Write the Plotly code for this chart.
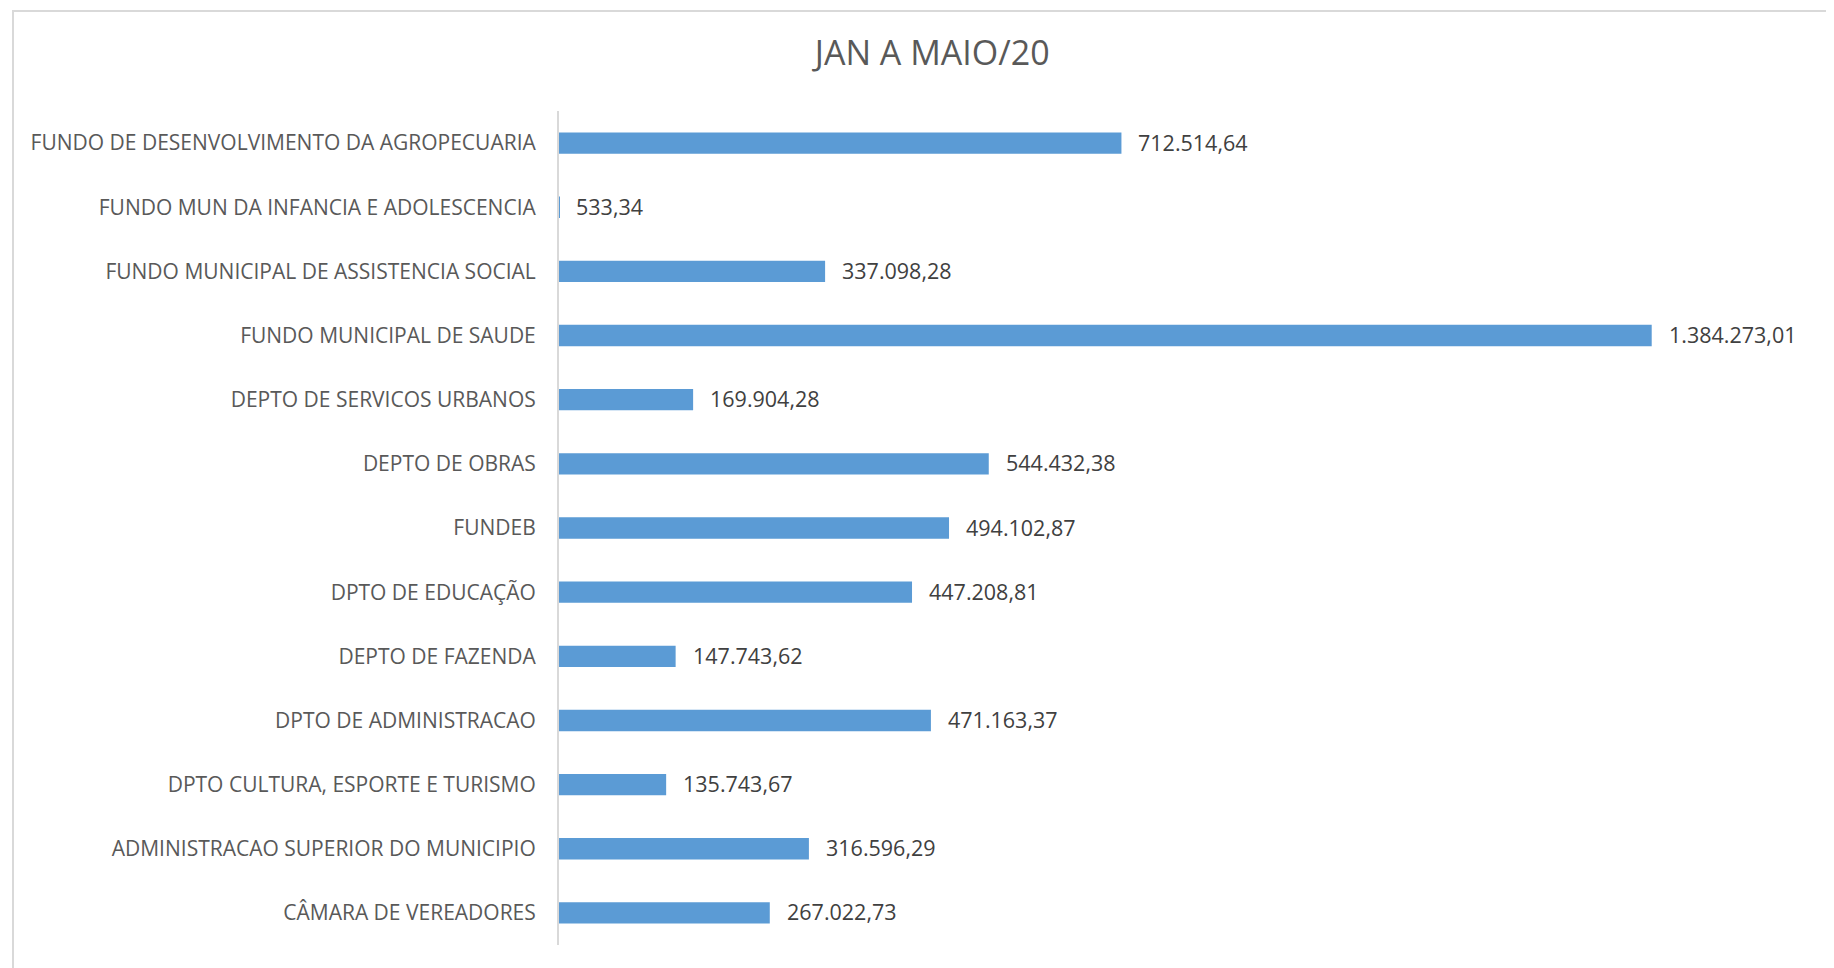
import plotly.graph_objects as go

categories = [
    "FUNDO DE DESENVOLVIMENTO DA AGROPECUARIA",
    "FUNDO MUN DA INFANCIA E ADOLESCENCIA",
    "FUNDO MUNICIPAL DE ASSISTENCIA SOCIAL",
    "FUNDO MUNICIPAL DE SAUDE",
    "DEPTO DE SERVICOS URBANOS",
    "DEPTO DE OBRAS",
    "FUNDEB",
    "DPTO DE EDUCAÇÃO",
    "DEPTO DE FAZENDA",
    "DPTO DE ADMINISTRACAO",
    "DPTO CULTURA, ESPORTE E TURISMO",
    "ADMINISTRACAO SUPERIOR DO MUNICIPIO",
    "CÂMARA DE VEREADORES",
]
values = [712514.64, 533.34, 337098.28, 1384273.01, 169904.28, 544432.38,
          494102.87, 447208.81, 147743.62, 471163.37, 135743.67, 316596.29,
          267022.73]
title_text = "JAN A MAIO/20"


def fmt_br(v):
    s = f"{v:,.2f}"
    return s.replace(",", "X").replace(".", ",").replace("X", ".")


labels = [fmt_br(v) for v in values]

# page body has an 8px margin, so figure coordinates are offset by 8
W, H = 1834, 968
L, R, T, B = 551, 20, 103, 31
pw, ph = W - L - R, H - T - B

fig = go.Figure()
fig.add_trace(go.Bar(
    y=categories, x=values, orientation="h",
    marker=dict(color="#5b9bd5", line=dict(width=0)),
    hoverinfo="skip",
))

for c, v, t in zip(categories, values, labels):
    fig.add_annotation(x=v, y=c, text=t, showarrow=False, xanchor="left",
                       xshift=15, yshift=1,
                       font=dict(family="Open Sans", size=21.5, color="#404040"))

fig.add_shape(type="rect", xref="paper", yref="paper",
              x0=(5 - L) / pw, x1=(W + 5 - L) / pw,
              y0=(H - B - (H + 5)) / ph, y1=(H - B - 3) / ph,
              line=dict(color="#d9d9d9", width=2), layer="below")

fig.update_layout(
    width=W, height=H,
    margin=dict(l=L, r=R, t=T, b=B),
    paper_bgcolor="white", plot_bgcolor="white",
    showlegend=False,
    bargap=0.667,
    title=dict(text=title_text, x=(797 * 1834 / 1568 - 8) / W, xanchor="center",
               y=1 - 45 / H, yanchor="middle",
               font=dict(family="Open Sans", size=34, color="#595959")),
    xaxis=dict(range=[0, 1600000], showgrid=False, zeroline=False,
               showticklabels=False, showline=False, ticks=""),
    yaxis=dict(autorange="reversed", showgrid=False, zeroline=False,
               showline=True, linecolor="#d9d9d9", linewidth=2,
               ticks="", ticklabelstandoff=17,
               tickfont=dict(family="Open Sans", size=21, color="#595959")),
)

fig.write_html("out.html")
